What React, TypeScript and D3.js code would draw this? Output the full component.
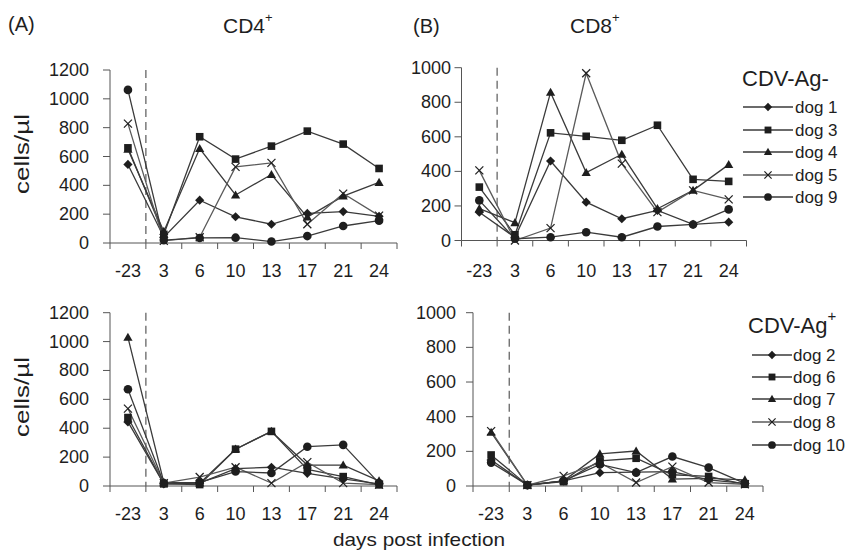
import React from "react";
import * as d3 from "d3";

// ---------- data ----------
const DAYS = ["-23", "3", "6", "10", "13", "17", "21", "24"];
const Y_TICKS_CD4 = [0, 200, 400, 600, 800, 1000, 1200];
const Y_TICKS_CD8 = [0, 200, 400, 600, 800, 1000];

// CD4+, CDV-Ag-
const CD4_NEG_DOG1 = [545, 40, 297, 182, 130, 205, 218, 185];
const CD4_NEG_DOG3 = [660, 60, 737, 582, 672, 776, 686, 517];
const CD4_NEG_DOG4 = [650, 80, 655, 333, 475, 180, 325, 420];
const CD4_NEG_DOG5 = [828, 15, 40, 528, 556, 130, 343, 190];
const CD4_NEG_DOG9 = [1062, 20, 35, 37, 10, 48, 118, 155];

// CD8+, CDV-Ag-
const CD8_NEG_DOG1 = [164, 18, 460, 222, 126, 174, 93, 106];
const CD8_NEG_DOG3 = [309, 33, 623, 603, 580, 667, 354, 342];
const CD8_NEG_DOG4 = [184, 103, 857, 393, 499, 184, 290, 439];
const CD8_NEG_DOG5 = [406, 0, 72, 968, 445, 164, 290, 238];
const CD8_NEG_DOG9 = [232, 10, 19, 48, 19, 81, 93, 180];

// CD4+, CDV-Ag+
const CD4_POS_DOG2 = [444, 15, 20, 120, 130, 88, 50, 15];
const CD4_POS_DOG6 = [474, 15, 10, 255, 378, 115, 65, 8];
const CD4_POS_DOG7 = [1029, 25, 20, 255, 378, 145, 145, 35];
const CD4_POS_DOG8 = [536, 20, 62, 130, 20, 165, 20, 10];
const CD4_POS_DOG10 = [670, 20, 25, 100, 90, 272, 285, 20];

// CD8+, CDV-Ag+
const CD8_POS_DOG2 = [150, 5, 30, 77, 80, 83, 35, 15];
const CD8_POS_DOG6 = [179, 5, 25, 145, 160, 65, 55, 10];
const CD8_POS_DOG7 = [310, 5, 30, 185, 202, 40, 44, 35];
const CD8_POS_DOG8 = [317, 5, 58, 135, 20, 112, 20, 10];
const CD8_POS_DOG10 = [135, 5, 30, 125, 77, 170, 106, 15];

const NEG_NAMES = ["dog 1", "dog 3", "dog 4", "dog 5", "dog 9"];
const POS_NAMES = ["dog 2", "dog 6", "dog 7", "dog 8", "dog 10"];
const MARKERS = ["diamond", "square", "triangle", "x", "circle"];

// ---------- drawing ----------
const FONT = "'Liberation Sans', Arial, Helvetica, sans-serif";
const INK = "#1e1e1e";
const LINE = "#3a3a3a";
const AXIS = "#555";

function Marker({ type, x, y, s = 1 }: { type: string; x: number; y: number; s?: number }) {
  if (type === "diamond") {
    const r = 4.6 * s;
    return <path d={`M${x},${y - r}L${x + r},${y}L${x},${y + r}L${x - r},${y}Z`} fill={INK} />;
  }
  if (type === "square") {
    const r = 3.8 * s;
    return <rect x={x - r} y={y - r} width={2 * r} height={2 * r} fill={INK} />;
  }
  if (type === "triangle") {
    const r = 4.6 * s;
    return <path d={`M${x},${y - r}L${x + r},${y + r * 0.75}L${x - r},${y + r * 0.75}Z`} fill={INK} />;
  }
  if (type === "x") {
    const r = 4 * s;
    return (
      <g stroke={INK} strokeWidth={1.2}>
        <line x1={x - r} y1={y - r} x2={x + r} y2={y + r} />
        <line x1={x - r} y1={y + r} x2={x + r} y2={y - r} />
      </g>
    );
  }
  return <circle cx={x} cy={y} r={4.3 * s} fill={INK} />;
}

type Panel = {
  x0: number; x1: number; yTop: number; y0: number; max: number; ticks: number[];
  labelX: number; xLabelY: number; series: number[][];
};

function PanelView({ p }: { p: Panel }) {
  const x = d3.scaleBand<string>().domain(DAYS).range([p.x0, p.x1]).paddingInner(0).paddingOuter(0);
  const y = d3.scaleLinear().domain([0, p.max]).range([p.y0, p.yTop]);
  const bw = x.bandwidth();
  const cx = (d: string) => (x(d) as number) + bw / 2;
  const line = d3.line<number>().x((_, i) => cx(DAYS[i])).y((v) => y(v));
  const edges = [...DAYS.map((d) => x(d) as number), p.x1];
  return (
    <g>
      {/* y axis */}
      <line x1={p.x0} x2={p.x0} y1={y(p.max)} y2={p.y0} stroke={AXIS} strokeWidth={1} />
      {p.ticks.map((t) => (
        <g key={t}>
          <line x1={p.x0 - 7} x2={p.x0} y1={y(t)} y2={y(t)} stroke={AXIS} />
          <text x={p.labelX} y={y(t) + 6} textAnchor="end" fontSize={18} fill={INK} fontFamily={FONT}>
            {t}
          </text>
        </g>
      ))}
      {/* x axis */}
      <line x1={p.x0} x2={p.x1} y1={p.y0} y2={p.y0} stroke={AXIS} />
      {edges.map((e, i) => (
        <line key={i} x1={e} x2={e} y1={p.y0} y2={p.y0 + 6} stroke={AXIS} />
      ))}
      {DAYS.map((d) => (
        <text key={d} x={cx(d)} y={p.xLabelY} textAnchor="middle" fontSize={18} fill={INK} fontFamily={FONT}>
          {d}
        </text>
      ))}
      {/* dashed infection line */}
      <line
        x1={edges[1]} x2={edges[1]} y1={y(p.max)} y2={p.y0}
        stroke="#666" strokeWidth={1.3} strokeDasharray="8,5"
      />
      {p.series.map((vals, si) => (
        <path key={si} d={line(vals) || ""} fill="none"
          stroke={MARKERS[si] === "x" ? "#5a5a5a" : LINE} strokeWidth={1.3} />
      ))}
      {p.series.map((vals, si) =>
        vals.map((v, i) => <Marker key={`${si}-${i}`} type={MARKERS[si]} x={cx(DAYS[i])} y={y(v)} />)
      )}
    </g>
  );
}

function Legend({ names, rowYs, lx0, lx1, tx }: { names: string[]; rowYs: number[]; lx0: number; lx1: number; tx: number }) {
  return (
    <g>
      {names.map((n, i) => (
        <g key={n}>
          <line x1={lx0} x2={lx1} y1={rowYs[i]} y2={rowYs[i]}
            stroke={MARKERS[i] === "x" ? "#5a5a5a" : LINE} strokeWidth={1.3} />
          <Marker type={MARKERS[i]} x={(lx0 + lx1) / 2} y={rowYs[i]} s={0.9} />
          <text x={tx} y={rowYs[i] + 6} fontSize={17} fill={INK} fontFamily={FONT}>{n}</text>
        </g>
      ))}
    </g>
  );
}

export default function App() {
  const panels: Panel[] = [
    { x0: 110, x1: 397, yTop: 70, y0: 243, max: 1200, ticks: Y_TICKS_CD4, labelX: 89, xLabelY: 277,
      series: [CD4_NEG_DOG1, CD4_NEG_DOG3, CD4_NEG_DOG4, CD4_NEG_DOG5, CD4_NEG_DOG9] },
    { x0: 461.5, x1: 746.5, yTop: 67.7, y0: 240.5, max: 1000, ticks: Y_TICKS_CD8, labelX: 451, xLabelY: 277,
      series: [CD8_NEG_DOG1, CD8_NEG_DOG3, CD8_NEG_DOG4, CD8_NEG_DOG5, CD8_NEG_DOG9] },
    { x0: 110, x1: 397, yTop: 312.7, y0: 486, max: 1200, ticks: Y_TICKS_CD4, labelX: 89, xLabelY: 520,
      series: [CD4_POS_DOG2, CD4_POS_DOG6, CD4_POS_DOG7, CD4_POS_DOG8, CD4_POS_DOG10] },
    { x0: 473, x1: 763, yTop: 312.7, y0: 486, max: 1000, ticks: Y_TICKS_CD8, labelX: 456, xLabelY: 520,
      series: [CD8_POS_DOG2, CD8_POS_DOG6, CD8_POS_DOG7, CD8_POS_DOG8, CD8_POS_DOG10] },
  ];
  return (
    <svg width={846} height={552} style={{ position: "absolute", left: 0, top: 0, background: "#fff" }}
      fontFamily={FONT}>
      <rect width={846} height={552} fill="#fff" />
      {panels.map((p, i) => <PanelView key={i} p={p} />)}

      <text x={8} y={31} fontSize={20} fill={INK}>(A)</text>
      <text x={223} y={33} fontSize={21} fill={INK}>CD4<tspan dy={-11} fontSize={13}>+</tspan></text>
      <text x={413} y={33} fontSize={20} fill={INK}>(B)</text>
      <text x={570} y={33} fontSize={21} fill={INK}>CD8<tspan dy={-11} fontSize={13}>+</tspan></text>

      <text transform="translate(29,154) rotate(-90)" textAnchor="middle" fontSize={20} fill={INK}
        textLength={80} lengthAdjust="spacingAndGlyphs">cells/µl</text>
      <text transform="translate(29,397) rotate(-90)" textAnchor="middle" fontSize={20} fill={INK}
        textLength={80} lengthAdjust="spacingAndGlyphs">cells/µl</text>

      <text x={419} y={546} textAnchor="middle" fontSize={19} fill={INK}
        textLength={172} lengthAdjust="spacingAndGlyphs">days post infection</text>

      <text x={742} y={86} fontSize={22} fill={INK}>CDV-Ag-</text>
      <Legend names={NEG_NAMES} rowYs={[107, 130, 152, 175, 197]} lx0={743} lx1={793} tx={795} />

      <text x={748} y={333} fontSize={22} fill={INK}>CDV-Ag<tspan dy={-12} fontSize={15}>+</tspan></text>
      <Legend names={POS_NAMES} rowYs={[355, 377, 399, 422, 445]} lx0={752} lx1={792} tx={793} />
    </svg>
  );
}
